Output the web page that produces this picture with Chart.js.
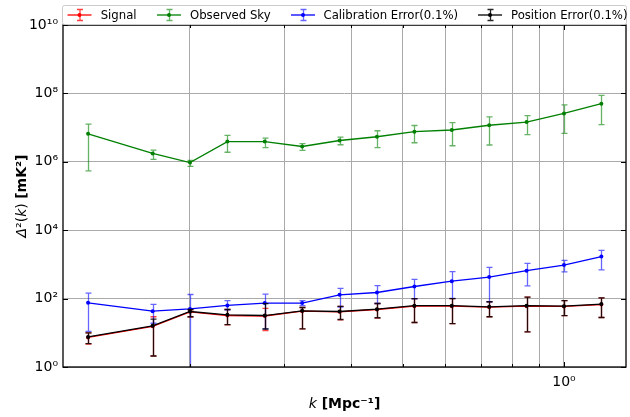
<!DOCTYPE html>
<html lang="en">
<head>
<meta charset="UTF-8">
<title>Power spectrum</title>
<script src="https://cdn.jsdelivr.net/npm/chart.js@4"></script>
<style>
  body { margin: 0; background: #fff; }
  #chart { display: block; }
</style>
</head>
<body>
<canvas id="chart" width="630" height="417"></canvas>
<script>
// k bins [Mpc^-1]
const kValues = [0.129, 0.1703, 0.2, 0.2349, 0.2759, 0.3241, 0.3807, 0.4472, 0.5253, 0.617, 0.7248, 0.8513, 1.0, 1.1746];

const signal   = [7.3, 15.5, 41, 32, 31, 43, 41, 48, 60, 60, 56, 60, 59, 67];
const signalLo = [4.7, 2.1, 29, 17, 11.5, 13, 24, 27, 20, 18.6, 29.5, 10.7, 31.6, 28];
const signalHi = [10, 29.5, 47, 48, 52, 55, 59, 72, 100, 100, 81, 110, 87, 105];

const observed   = [6.6e6, 1.76e6, 9.5e5, 3.9e6, 3.9e6, 2.8e6, 4.2e6, 5.4e6, 7.6e6, 8.5e6, 1.17e7, 1.45e7, 2.6e7, 5.0e7];
const observedLo = [5.4e5, 1.17e6, 7.3e5, 1.9e6, 2.6e6, 2.15e6, 3.15e6, 2.6e6, 3.6e6, 2.95e6, 3.1e6, 6.2e6, 6.8e6, 1.23e7];
const observedHi = [1.26e7, 2.19e6, 1.1e6, 5.9e6, 4.95e6, 3.4e6, 5.25e6, 8.1e6, 1.15e7, 1.4e7, 2.05e7, 2.25e7, 4.6e7, 8.7e7];

const calib   = [75, 43, 50, 63, 74, 74, 129, 151, 226, 324, 427, 653, 955, 1700];
const calibLo = [11, 19, 0.3, 47, 13, 62, 56, 72, 98, 102, 81, 234, 603, 692];
const calibHi = [145, 68, 132, 87, 135, 87, 200, 240, 363, 617, 813, 1070, 1318, 2570];

const position   = [7.6, 16, 42, 33.5, 32, 44, 42, 49, 62, 62, 57.5, 62, 60, 69];
const positionLo = [4.8, 2.1, 29.5, 17.4, 12.9, 13, 24.5, 27.5, 20, 18.6, 29.5, 10.7, 31.6, 28];
const positionHi = [10, 25, 48, 48, 71, 55, 59, 72, 100, 100, 81, 110, 87, 105];

const xTicks = [0.2, 0.3, 0.4, 0.5, 0.6, 0.7, 0.8, 0.9, 1.0];
const yTicks = [1, 1e2, 1e4, 1e6, 1e8, 1e10];

const seriesNames = ['Signal', 'Observed Sky', 'Calibration Error(0.1%)', 'Position Error(0.1%)'];
const seriesColors = ['#ff0000', '#008000', '#0000ff', '#000000'];
const errColors = ['rgba(255,0,0,0.75)', 'rgba(0,128,0,0.6)', 'rgba(0,0,255,0.6)', 'rgba(0,0,0,0.85)'];

const SUP = { '0': '⁰', '1': '¹', '2': '²', '3': '³', '4': '⁴', '5': '⁵', '6': '⁶', '7': '⁷', '8': '⁸', '9': '⁹', '-': '⁻' };
function pow10Label(v) {
    const e = Math.round(Math.log10(v));
    return '10' + String(e).split('').map(c => SUP[c]).join('');
}

function makeSet(i, vals, lo, hi, order) {
    return {
        label: seriesNames[i],
        data: kValues.map((k, j) => ({ x: k, y: vals[j] })),
        errLo: lo,
        errHi: hi,
        errColor: errColors[i],
        borderColor: seriesColors[i],
        backgroundColor: seriesColors[i],
        borderWidth: 1.3,
        pointRadius: 2,
        pointBorderWidth: 0,
        tension: 0,
        order: order
    };
}

// vertical error bars with caps, drawn under each line
const errorBars = {
    id: 'errorBars',
    beforeDatasetDraw(chart, args) {
        const ds = chart.data.datasets[args.index];
        if (!ds.errLo) return;
        const ctx = chart.ctx, xs = chart.scales.x, ys = chart.scales.y, a = chart.chartArea;
        ctx.save();
        ctx.beginPath();
        ctx.rect(a.left, a.top, a.right - a.left, a.bottom - a.top);
        ctx.clip();
        ctx.strokeStyle = ds.errColor;
        ctx.lineWidth = 1.3;
        ds.data.forEach((p, i) => {
            const px = Math.round(xs.getPixelForValue(p.x)) + 0.5;
            const y1 = ys.getPixelForValue(ds.errLo[i]);
            const y2 = ys.getPixelForValue(ds.errHi[i]);
            ctx.beginPath();
            ctx.moveTo(px, y1); ctx.lineTo(px, y2);
            ctx.moveTo(px - 3, y1); ctx.lineTo(px + 3, y1);
            ctx.moveTo(px - 3, y2); ctx.lineTo(px + 3, y2);
            ctx.stroke();
        });
        ctx.restore();
    }
};

function drawParts(ctx, parts, cx, cy) {
    let total = 0;
    parts.forEach(p => { ctx.font = p.font; p.w = ctx.measureText(p.text).width; total += p.w; });
    let x = cx - total / 2;
    ctx.textBaseline = 'middle';
    ctx.textAlign = 'left';
    parts.forEach(p => { ctx.font = p.font; ctx.fillText(p.text, x, cy); x += p.w; });
}

const frameAndLegend = {
    id: 'frameAndLegend',
    afterDraw(chart) {
        const ctx = chart.ctx, a = chart.chartArea, xs = chart.scales.x, ys = chart.scales.y;
        ctx.save();
        // inward ticks
        ctx.strokeStyle = '#000';
        ctx.lineWidth = 1;
        ctx.beginPath();
        yTicks.forEach(v => {
            const py = Math.round(ys.getPixelForValue(v)) + 0.5;
            ctx.moveTo(a.left, py); ctx.lineTo(a.left + 5, py);
            ctx.moveTo(a.right, py); ctx.lineTo(a.right - 5, py);
        });
        xTicks.forEach(v => {
            const px = Math.round(xs.getPixelForValue(v)) + 0.5;
            const len = v === 1.0 ? 5 : 3;
            ctx.moveTo(px, a.bottom); ctx.lineTo(px, a.bottom - len);
            ctx.moveTo(px, a.top); ctx.lineTo(px, a.top + len);
        });
        ctx.stroke();
        // frame
        ctx.lineWidth = 1.3;
        ctx.strokeRect(a.left, a.top, a.right - a.left, a.bottom - a.top);

        // legend box
        const lx = 62, ly = 5, lw = 564, lh = 19;
        ctx.fillStyle = 'rgba(255,255,255,0.85)';
        ctx.strokeStyle = '#cccccc';
        ctx.lineWidth = 1;
        ctx.beginPath();
        ctx.roundRect(lx + 0.5, ly + 0.5, lw, lh, 2);
        ctx.fill();
        ctx.stroke();
        const glyphX = [79.5, 169, 303, 490];
        const textX = [100.7, 190, 323.5, 511];
        const gy = 15;
        seriesNames.forEach((name, i) => {
            const gx = glyphX[i];
            ctx.strokeStyle = seriesColors[i];
            ctx.lineWidth = 1.3;
            ctx.beginPath();
            ctx.moveTo(gx - 12, gy); ctx.lineTo(gx + 12, gy);
            ctx.stroke();
            ctx.strokeStyle = errColors[i];
            ctx.lineWidth = 1.3;
            ctx.beginPath();
            ctx.moveTo(gx + 0.5, gy - 5.5); ctx.lineTo(gx + 0.5, gy + 5.5);
            ctx.moveTo(gx - 2.5, gy - 5.5); ctx.lineTo(gx + 3.5, gy - 5.5);
            ctx.moveTo(gx - 2.5, gy + 5.5); ctx.lineTo(gx + 3.5, gy + 5.5);
            ctx.stroke();
            ctx.fillStyle = seriesColors[i];
            ctx.beginPath();
            ctx.arc(gx, gy, 2, 0, Math.PI * 2);
            ctx.fill();
            ctx.fillStyle = '#000';
            ctx.font = '11.7px "DejaVu Sans"';
            ctx.textBaseline = 'middle';
            ctx.textAlign = 'left';
            ctx.fillText(name, textX[i], gy + 1);
        });

        // axis titles
        ctx.fillStyle = '#000';
        drawParts(ctx, [
            { text: 'k', font: 'italic 14px "DejaVu Sans"' },
            { text: ' [Mpc⁻¹]', font: 'bold 14px "DejaVu Sans"' }
        ], (a.left + a.right) / 2, 404);
        ctx.translate(22, (a.top + a.bottom) / 2);
        ctx.rotate(-Math.PI / 2);
        drawParts(ctx, [
            { text: 'Δ', font: 'italic 14px "DejaVu Sans"' },
            { text: '²(', font: '14px "DejaVu Sans"' },
            { text: 'k', font: 'italic 14px "DejaVu Sans"' },
            { text: ') ', font: '14px "DejaVu Sans"' },
            { text: '[mK²]', font: 'bold 14px "DejaVu Sans"' }
        ], 0, 0);
        ctx.restore();
    }
};

const ctx = document.getElementById('chart').getContext('2d');
new Chart(ctx, {
    type: 'line',
    data: {
        datasets: [
            makeSet(0, signal, signalLo, signalHi, 4),
            makeSet(1, observed, observedLo, observedHi, 3),
            makeSet(2, calib, calibLo, calibHi, 2),
            makeSet(3, position, positionLo, positionHi, 1)
        ]
    },
    options: {
        responsive: false,
        animation: false,
        layout: { padding: { top: 25, right: 1, left: 0, bottom: 0 } },
        plugins: { legend: { display: false }, tooltip: { enabled: false } },
        scales: {
            x: {
                type: 'logarithmic',
                min: 0.1158,
                max: 1.306,
                afterFit: s => { s.height = 50; },
                afterBuildTicks: s => { s.ticks = xTicks.map(v => ({ value: v })); },
                grid: { color: '#aaaaaa', lineWidth: 1, drawTicks: false },
                border: { display: false },
                ticks: {
                    autoSkip: false,
                    maxRotation: 0,
                    padding: 7,
                    color: '#000',
                    font: { family: 'DejaVu Sans', size: 14 },
                    callback: v => (v === 1 ? pow10Label(v) : '')
                }
            },
            y: {
                type: 'logarithmic',
                min: 1,
                max: 1e10,
                afterFit: s => { s.width = 63; },
                afterBuildTicks: s => { s.ticks = yTicks.map(v => ({ value: v })); },
                grid: { color: '#aaaaaa', lineWidth: 1, drawTicks: false },
                border: { display: false },
                ticks: {
                    autoSkip: false,
                    padding: 5,
                    color: '#000',
                    font: { family: 'DejaVu Sans', size: 14 },
                    callback: v => pow10Label(v)
                }
            }
        }
    },
    plugins: [errorBars, frameAndLegend]
});
</script>
</body>
</html>
